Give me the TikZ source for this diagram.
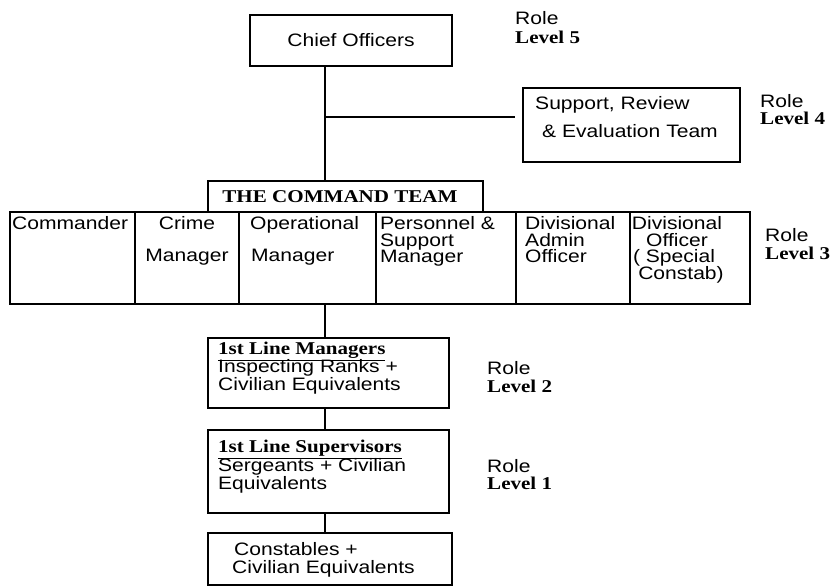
\documentclass[tikz,border=0pt]{standalone}
\usepackage{fontspec}
\setmainfont{Liberation Serif}[FakeStretch=1.17]
\setsansfont{Liberation Sans}[FakeStretch=1.17]
\begin{document}
\begin{tikzpicture}[x=1pt,y=-1pt,
  box/.style={draw, line width=1.4pt, rectangle, inner sep=0pt, outer sep=0pt, anchor=north west},
  conn/.style={line width=1.4pt},
  sf/.style={font=\fontsize{18}{18}\selectfont\sffamily},
  bfs/.style={font=\fontsize{18}{18}\selectfont\rmfamily\bfseries},
  lbl/.style={inner sep=0pt, anchor=base west},
  lblc/.style={inner sep=0pt, anchor=base}]
\useasboundingbox (0,0) rectangle (831,588);

% boxes
\node[box, minimum width=202pt, minimum height=51pt] (chief) at (250,15) {};
\node[box, minimum width=217pt, minimum height=74pt] (support) at (523,88) {};
\node[box, minimum width=275pt, minimum height=31pt] (command) at (208,181) {};
\node[box, minimum width=125pt, minimum height=92pt] (cmdr) at (10,212) {};
\node[box, minimum width=104pt, minimum height=92pt] (crime) at (135,212) {};
\node[box, minimum width=137pt, minimum height=92pt] (oper) at (239,212) {};
\node[box, minimum width=140pt, minimum height=92pt] (pers) at (376,212) {};
\node[box, minimum width=114pt, minimum height=92pt] (admin) at (516,212) {};
\node[box, minimum width=120pt, minimum height=92pt] (special) at (630,212) {};
\node[box, minimum width=241pt, minimum height=70pt] (managers) at (208,338) {};
\node[box, minimum width=241pt, minimum height=83pt] (supervisors) at (208,430) {};
\node[box, minimum width=244pt, minimum height=52pt] (constables) at (208,533) {};

% connectors
\coordinate (spine) at (325,0);
\coordinate (hy) at (0,117);
\draw[conn] (chief.south -| spine) -- (command.north -| spine);
\draw[conn, shorten >=8pt] (spine |- hy) -- (support.west |- hy);
\draw[conn] (oper.south -| spine) -- (managers.north -| spine);
\draw[conn] (managers.south -| spine) -- (supervisors.north -| spine);
\draw[conn] (supervisors.south -| spine) -- (constables.north -| spine);

% texts in boxes
\node[sf, lblc] (t-chief) at (351,47) {Chief Officers};
\node[sf, lbl] (t-sup1) at (535,110) {Support, Review};
\node[sf, lbl] (t-sup2) at (542,138) {\& Evaluation Team};
\node[bfs, lblc] (t-cmd) at (340,203) {THE COMMAND TEAM};

\node[sf, lbl] (t-cmdr) at (12,230) {Commander};
\node[sf, lblc] (t-crime1) at (187,230) {Crime};
\node[sf, lblc] (t-crime2) at (187,262) {Manager};
\node[sf, lbl] (t-oper1) at (250,230) {Operational};
\node[sf, lbl] (t-oper2) at (251,262) {Manager};
\node[sf, lbl] (t-pers1) at (380,230) {Personnel \&};
\node[sf, lbl] (t-pers2) at (380,246.5) {Support};
\node[sf, lbl] (t-pers3) at (380,263) {Manager};
\node[sf, lbl] (t-adm1) at (525,230) {Divisional};
\node[sf, lbl] (t-adm2) at (525,246.5) {Admin};
\node[sf, lbl] (t-adm3) at (525,263) {Officer};
\node[sf, lblc] (t-spc1) at (677,230) {Divisional};
\node[sf, lblc] (t-spc2) at (677,246.5) {Officer};
\node[sf, lblc] (t-spc3) at (674,263) {( Special};
\node[sf, lblc] (t-spc4) at (681,280) {Constab)};

\node[bfs, lbl] (t-man1) at (218,355) {\underline{1st Line Managers}};
\node[sf, lbl] (t-man2) at (218,373) {Inspecting Ranks +};
\node[sf, lbl] (t-man3) at (218,391) {Civilian Equivalents};
\node[bfs, lbl] (t-sv1) at (218,453) {\underline{1st Line Supervisors}};
\node[sf, lbl] (t-sv2) at (218,471) {Sergeants + Civilian};
\node[sf, lbl] (t-sv3) at (218,489) {Equivalents};
\node[sf, lbl] (t-con1) at (234,555) {Constables +};
\node[sf, lbl] (t-con2) at (232,573) {Civilian Equivalents};

% role labels
\node[sf, lbl] (r5) at (515,25) {Role};
\node[bfs, lbl] (l5) at (515,44) {Level 5};
\node[sf, lbl] (r4) at (760,108) {Role};
\node[bfs, lbl] (l4) at (760,125) {Level 4};
\node[sf, lbl] (r3) at (765,242) {Role};
\node[bfs, lbl] (l3) at (765,260) {Level 3};
\node[sf, lbl] (r2) at (487,375) {Role};
\node[bfs, lbl] (l2) at (487,392) {Level 2};
\node[sf, lbl] (r1) at (487,472) {Role};
\node[bfs, lbl] (l1) at (487,489) {Level 1};
\end{tikzpicture}
\end{document}
